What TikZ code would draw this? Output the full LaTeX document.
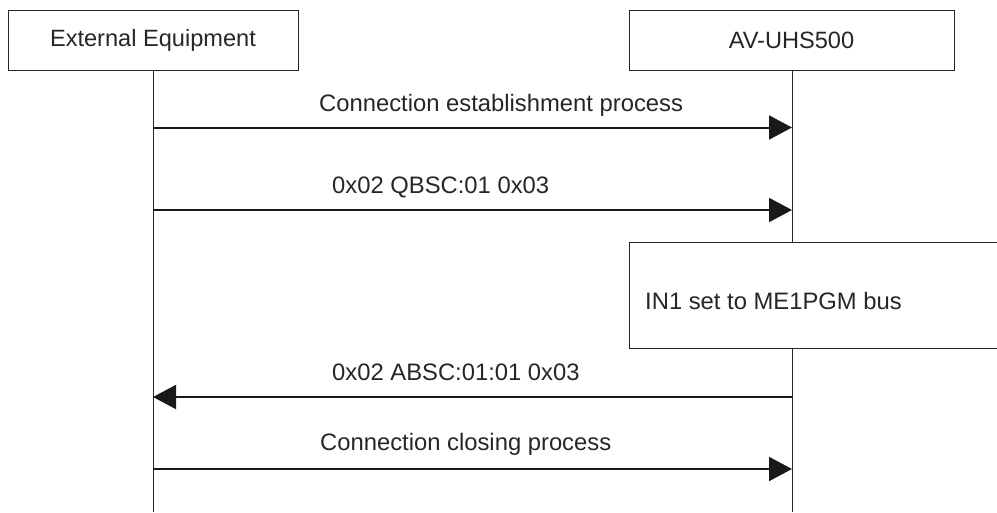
\documentclass[tikz,border=0pt]{standalone}
\usepackage{fontspec}
\setmainfont{Liberation Sans}
\usetikzlibrary{arrows.meta}
\tikzset{
  actor/.style={draw=black!85, line width=1pt, minimum height=60pt, inner sep=0pt,
    font=\fontsize{23.6}{28}\selectfont, text=black!85},
  procbox/.style={draw=black!85, line width=1pt, minimum width=390pt, minimum height=106pt, inner sep=0pt},
  boxtext/.style={font=\fontsize{23.8}{28}\selectfont, text=black!85, inner sep=0pt},
  lifeline/.style={draw=black!85, line width=1pt},
  msg/.style={draw=black!90, line width=2pt, -{Triangle[length=23pt,width=24pt]}},
  msglabel/.style={font=\fontsize{23.8}{28}\selectfont, text=black!85, inner sep=0pt, anchor=base west}
}
\begin{document}
\begin{tikzpicture}[x=1pt,y=-1pt]
\useasboundingbox (0,0) rectangle (997,512);
\clip (0,0) rectangle (997,512);
% actors
\node[actor, minimum width=290pt] (ext) at (153,40) {External Equipment};
\node[actor, minimum width=325pt] (av) at (791.5,40) {AV-UHS500};
% process box
\node[procbox, anchor=north west] (proc) at (629,242) {};
\node[boxtext, anchor=base west] (proctext) at (645,309) {IN1 set to ME1PGM bus};
% lifeline ends
\coordinate (extend) at (153,512);
\coordinate (avend) at (792,512);
\coordinate (avtop) at (792,70);
\coordinate (proctop) at (792,242);
\coordinate (procbot) at (792,348);
\draw[lifeline] (ext.south) -- (extend);
\draw[lifeline] (avtop) -- (proctop);
\draw[lifeline] (procbot) -- (avend);
% message points
\coordinate (l1) at (153,127.5); \coordinate (r1) at (792,127.5);
\coordinate (l2) at (153,210); \coordinate (r2) at (792,210);
\coordinate (l3) at (153,397); \coordinate (r3) at (792,397);
\coordinate (l4) at (153,469); \coordinate (r4) at (792,469);
\draw[msg] (l1) -- (r1);
\draw[msg] (l2) -- (r2);
\draw[msg] (r3) -- (l3);
\draw[msg] (l4) -- (r4);
% labels
\node[msglabel] (t1) at (319,111.7) {Connection establishment process};
\node[msglabel] (t2) at (332,193.3) {0x02 QBSC:01 0x03};
\node[msglabel] (t3) at (332,380.7) {0x02 ABSC:01:01 0x03};
\node[msglabel] (t4) at (320,450.7) {Connection closing process};
\end{tikzpicture}
\end{document}
